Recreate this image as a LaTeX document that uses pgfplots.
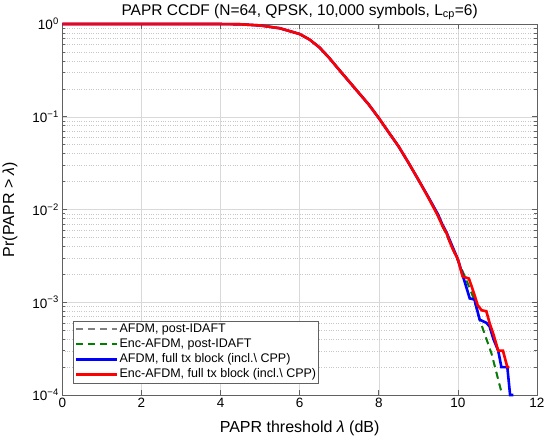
\documentclass[border=0pt]{standalone}
\usepackage{fontspec}
\setmainfont{Liberation Sans}
\usepackage{pgfplots}
\pgfplotsset{compat=1.18}
\definecolor{mgreen}{rgb}{0,0.5,0}
\definecolor{axgray}{rgb}{0.38,0.38,0.38}
\begin{document}
\begin{tikzpicture}
\begin{axis}[
 at={(0,0)}, anchor=south west,
 scale only axis, width=474.7pt, height=371pt,
 xmin=0, xmax=12, ymin=1e-4, ymax=1,
 ymode=log,
 xtick={0,2,...,12},
 ytick={1e-4,1e-3,1e-2,1e-1,1},
 yticklabels={10\textsuperscript{−4},10\textsuperscript{−3},10\textsuperscript{−2},10\textsuperscript{−1},10\textsuperscript{0}},
 /pgf/number format/assume math mode=true,
 tick label style={font=\fontsize{13.5}{15}\selectfont},
 tick align=inside,
 major tick length=5pt, minor tick length=3pt,
 xmajorgrids, ymajorgrids, yminorgrids,
 major grid style={black!15, line width=0.5pt},
 minor grid style={black!22, dotted, line width=0.5pt},
 axis line style={axgray, line width=0.6pt},
 tick style={axgray, line width=0.6pt},
 clip=false,
 title={PAPR CCDF (N=64, QPSK, 10,000 symbols, L\textsubscript{cp}=6)},
 title style={font=\fontsize{15.5}{17}\selectfont, at={(axis description cs:0.5,1)}, anchor=center, yshift=6pt},
 xlabel={PAPR threshold \textit{λ} (dB)},
 ylabel={Pr(PAPR > \textit{λ})},
 label style={font=\fontsize{16}{18}\selectfont},
 xlabel style={at={(axis description cs:0.5,-0.089)}, anchor=center},
 ylabel style={at={(axis description cs:-0.110,0.5)}, anchor=center},
 legend cell align=left,
 legend style={at={(axis description cs:0.0232,0.0323)}, anchor=south west, draw=axgray, fill=white, font=\fontsize{12.5}{14}\selectfont, inner sep=1pt, row sep=0pt, nodes={inner sep=1.5pt, text height=9pt, text depth=3pt}},
 legend image code/.code={\draw[#1] (0pt,0pt) -- (41pt,0pt);},
]
\addplot[gray, line width=1.8pt, dash pattern=on 7pt off 5pt] coordinates {
(0,1) (3.5,1) (4.0,0.9995) (4.5,0.993) (5.0,0.965) (5.5,0.90) (6.0,0.78) (6.25,0.68) (6.5,0.56) (6.75,0.43) (7.0,0.32) (7.25,0.24) (7.5,0.18) (7.75,0.135) (8.0,0.097) (8.25,0.068) (8.5,0.048) (8.75,0.032) (9.0,0.021) (9.25,0.0135) (9.5,0.0085) (9.6,0.0067) (9.71,0.0054) (9.84,0.0040) (10.0,0.0028) (10.2,0.0018) (10.4,0.0011) (10.55,0.00065) (10.85,0.00028) (11.12,0.0001)
};
\addlegendentry{AFDM, post-IDAFT}
\addplot[mgreen, line width=1.8pt, dash pattern=on 7pt off 5pt] coordinates {
(0,1) (3.5,1) (4.0,0.9995) (4.5,0.993) (5.0,0.965) (5.5,0.90) (6.0,0.78) (6.25,0.68) (6.5,0.56) (6.75,0.43) (7.0,0.32) (7.25,0.24) (7.5,0.18) (7.75,0.135) (8.0,0.097) (8.25,0.068) (8.5,0.048) (8.75,0.032) (9.0,0.021) (9.25,0.0135) (9.5,0.0085) (9.6,0.0067) (9.71,0.0054) (9.84,0.0040) (10.0,0.0028) (10.2,0.0018) (10.4,0.0011) (10.55,0.00065) (10.85,0.00028) (11.12,0.0001)
};
\addlegendentry{Enc-AFDM, post-IDAFT}
\addplot[blue, line width=2.6pt] coordinates {
(0,1) (3.5,1) (4.0,0.9995) (4.5,0.993) (5.0,0.965) (5.5,0.90) (6.0,0.78) (6.25,0.68) (6.5,0.56) (6.75,0.43) (7.0,0.32) (7.25,0.24) (7.5,0.18) (7.75,0.135) (8.0,0.097) (8.25,0.068) (8.5,0.048) (8.75,0.032) (9.0,0.021) (9.25,0.0137) (9.5,0.0088) (9.6,0.0070) (9.71,0.0057) (9.84,0.0042) (10.0,0.0029) (10.13,0.0019) (10.3,0.0011) (10.42,0.00107) (10.55,0.00065) (10.72,0.0006) (10.8,0.00055) (10.9,0.0004) (11.02,0.0003) (11.1,0.0002) (11.25,0.0002) (11.32,0.0001) (11.4,0.0001)
};
\addlegendentry{AFDM, full tx block (incl.\textbackslash{} CPP)}
\addplot[red, line width=2.6pt] coordinates {
(0,1) (3.5,1) (4.0,0.9995) (4.5,0.993) (5.0,0.965) (5.5,0.90) (6.0,0.78) (6.25,0.68) (6.5,0.56) (6.75,0.43) (7.0,0.32) (7.25,0.24) (7.5,0.18) (7.75,0.135) (8.0,0.097) (8.25,0.068) (8.5,0.048) (8.75,0.032) (9.0,0.021) (9.25,0.0135) (9.5,0.0085) (9.6,0.0068) (9.71,0.0056) (9.84,0.0040) (10.0,0.0029) (10.12,0.0019) (10.28,0.0018) (10.42,0.0012) (10.5,0.00093) (10.6,0.00082) (10.72,0.0008) (10.8,0.0006) (10.9,0.00045) (11.02,0.0003) (11.14,0.0003) (11.25,0.0002) (11.3,0.0002)
};
\addlegendentry{Enc-AFDM, full tx block (incl.\textbackslash{} CPP)}
\end{axis}
\pgfresetboundingbox
\path (-62.3pt,-45pt) rectangle (487.7pt,395pt);
\end{tikzpicture}
\end{document}
